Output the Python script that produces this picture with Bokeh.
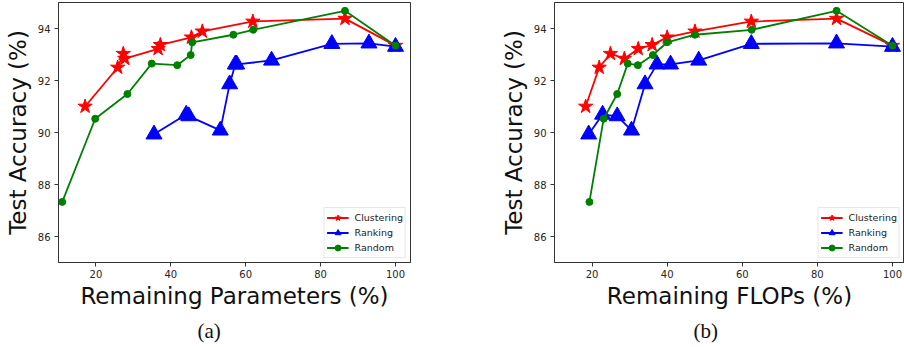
from bokeh.plotting import figure
from bokeh.layouts import row
from bokeh.models import Range1d, FixedTicker, Title, Legend
from bokeh.embed import file_html
from bokeh.resources import INLINE

# ---- data ----
acc_clustering = [91.0, 92.5, 93.03, 92.84, 93.22, 93.37, 93.66, 93.89, 94.27, 94.38, 93.34]
params_clustering = [17.1, 25.8, 27.3, 27.7, 36.6, 37.2, 45.5, 48.4, 61.9, 86.5, 100.0]
flops_clustering = [18.3, 21.9, 24.9, 28.6, 32.3, 36.0, 40.0, 47.4, 62.4, 85.1, 100.0]

acc_ranking = [89.93, 90.69, 90.63, 90.08, 91.86, 92.62, 92.62, 92.77, 93.41, 93.43, 93.3]
params_ranking = [35.5, 44.1, 44.8, 53.2, 55.7, 57.2, 57.6, 66.9, 83.0, 92.9, 100.0]
flops_ranking = [19.1, 22.8, 26.7, 30.5, 34.1, 37.3, 40.9, 48.4, 62.4, 85.1, 100.0]

acc_random = [87.33, 90.53, 91.48, 92.65, 92.59, 92.98, 93.47, 93.76, 93.95, 94.68, 93.34]
params_random = [11.0, 19.8, 28.4, 34.9, 41.7, 45.3, 45.7, 56.7, 62.0, 86.5, 100.0]
flops_random = [19.3, 23.1, 26.7, 29.5, 32.2, 36.2, 40.0, 47.4, 62.5, 85.1, 100.0]

x_ticks = [20, 40, 60, 80, 100]
y_ticks = [86, 88, 90, 92, 94]

FONT = "DejaVu Sans"
SPINE = "#333333"


def make_panel(xc, xr, xd, xlabel, caption, width, left, right, x_end):
    p = figure(width=width, height=347, output_backend="svg", toolbar_location=None,
               x_range=Range1d(10, x_end), y_range=Range1d(85, 95),
               min_border_left=left, min_border_right=right,
               min_border_top=2, min_border_bottom=83)
    p.xgrid.visible = False
    p.ygrid.visible = False
    p.outline_line_color = SPINE
    p.outline_line_width = 1
    p.background_fill_color = "white"
    p.border_fill_color = "white"

    for ax in (p.xaxis[0], p.yaxis[0]):
        ax.axis_line_color = SPINE
        ax.major_tick_line_color = SPINE
        ax.major_tick_out = 4
        ax.major_tick_in = 0
        ax.minor_tick_line_color = None
        ax.major_label_text_font = FONT
        ax.major_label_text_font_size = "10px"
        ax.major_label_text_color = "#262626"
        ax.axis_label_text_font = FONT
        ax.axis_label_text_font_size = "23px"
        ax.axis_label_text_font_style = "normal"
        ax.axis_label_text_color = "#111111"
    p.xaxis[0].ticker = FixedTicker(ticks=x_ticks)
    p.yaxis[0].ticker = FixedTicker(ticks=y_ticks)
    p.xaxis[0].axis_label = xlabel
    p.yaxis[0].axis_label = "Test Accuracy (%)"
    p.xaxis[0].major_label_standoff = 3
    p.xaxis[0].axis_label_standoff = 2
    p.yaxis[0].major_label_standoff = 4
    p.yaxis[0].axis_label_standoff = 4

    r1 = p.line(xc, acc_clustering, line_color="red", line_width=1.8)
    s1 = p.scatter(xc, acc_clustering, marker="star", size=15, fill_color="red", line_color="red")
    r2 = p.line(xr, acc_ranking, line_color="blue", line_width=1.8)
    s2 = p.scatter(xr, acc_ranking, marker="triangle", size=16, fill_color="blue", line_color="blue")
    r3 = p.line(xd, acc_random, line_color="green", line_width=1.8)
    s3 = p.scatter(xd, acc_random, marker="circle", size=7, fill_color="green", line_color="green")

    legend = Legend(items=[("Clustering", [r1, s1]), ("Ranking", [r2, s2]), ("Random", [r3, s3])],
                    location="bottom_right")
    legend.label_text_font = FONT
    legend.label_text_font_size = "9.5px"
    legend.label_text_color = "#222222"
    legend.glyph_width = 22
    legend.glyph_height = 15
    legend.label_height = 15
    legend.spacing = 0
    legend.padding = 2
    legend.margin = 4
    legend.label_standoff = 6
    legend.border_line_color = "#d0d0d0"
    legend.background_fill_alpha = 0.9
    p.add_layout(legend)

    p.add_layout(Title(text=caption, align="left", offset=139,
                       text_font="Liberation Serif", text_font_size="21px",
                       text_font_style="normal", text_color="#111111"), "below")
    return p


pa = make_panel(params_clustering, params_ranking, params_random,
                "Remaining Parameters (%)", "(a)", 480, 58, 70, 104)
pb = make_panel(flops_clustering, flops_ranking, flops_random,
                "Remaining FLOPs (%)", "(b)", 424, 74, 0, 103.2)

layout = row(pa, pb)
open("out.html", "w").write(file_html(layout, INLINE))
